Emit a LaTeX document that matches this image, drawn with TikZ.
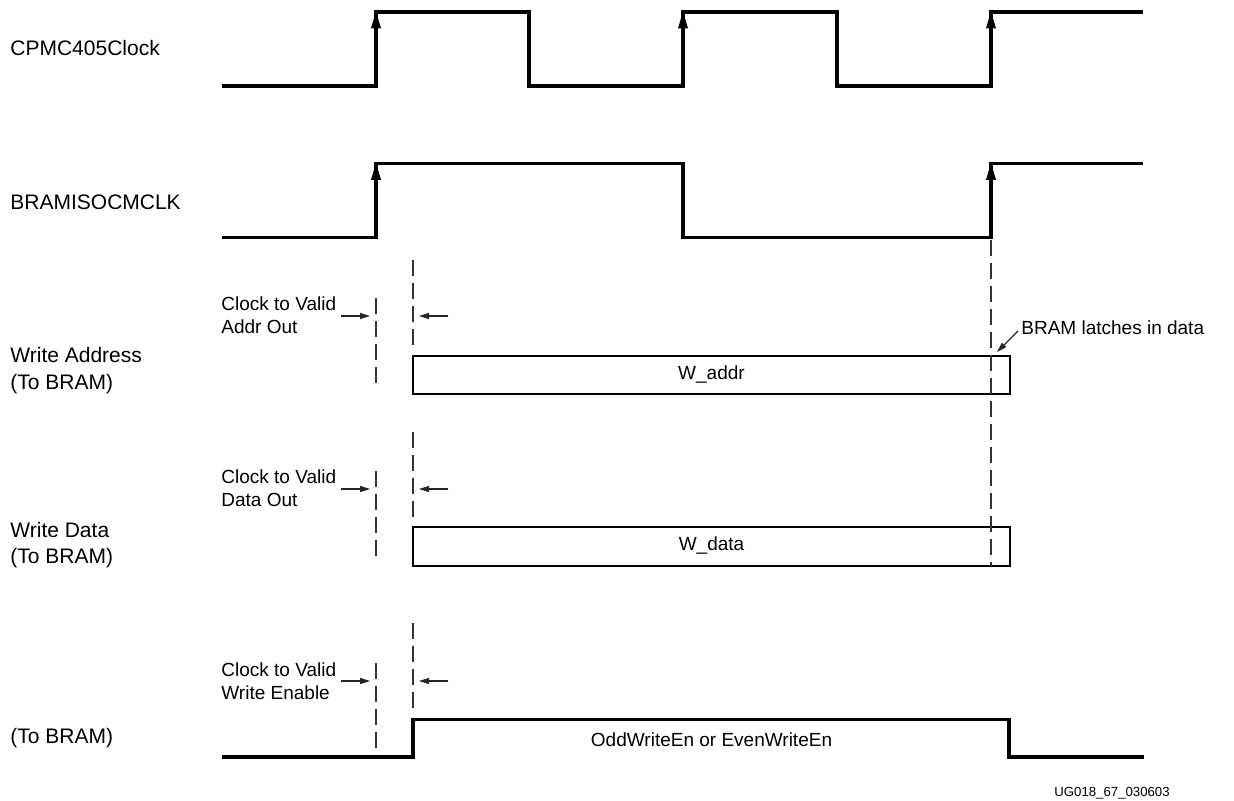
\documentclass[tikz,border=0pt]{standalone}
\usepackage{fontspec}
\setmainfont{Liberation Sans}
\usetikzlibrary{arrows.meta}

\begin{document}
\begin{tikzpicture}[x=0.5pt, y=-0.5pt,
    wave/.style={line width=1.7pt},
    rise/.style={line width=1.7pt, -{Triangle[length=9pt, width=4.5pt]}},
    bus/.style={draw, line width=1pt},
    guide/.style={line width=0.65pt, black!80, dash pattern=on 8pt off 3.5pt},
    tick/.style={line width=0.6pt, black!85, -{Triangle[length=5pt, width=3pt]}},
    lbl/.style={anchor=base west, inner sep=0pt, font=\fontsize{10.5}{13}\selectfont},
    note/.style={anchor=base west, inner sep=0pt, font=\fontsize{9.5}{11.5}\selectfont},
    sig/.style={inner sep=0pt, font=\fontsize{9.5}{11.5}\selectfont}]

    \useasboundingbox (0,0) rectangle (1234,801);

    % signal names
    \node[lbl] (cpmc) at (10,56) {CPMC405Clock};
    \node[lbl] (bram) at (10,210) {BRAMISOCMCLK};
    \node[lbl] (wa1) at (10,363) {Write Address};
    \node[lbl] (wa2) at (10,389) {(To BRAM)};
    \node[lbl] (wd1) at (10,537) {Write Data};
    \node[lbl] (wd2) at (10,563) {(To BRAM)};
    \node[lbl] (we1) at (10,743) {(To BRAM)};

    % clocks
    \draw[wave] (222,86) -- (376,86) -- (376,12) -- (529,12) -- (529,86) -- (683,86)
        -- (683,12) -- (837,12) -- (837,86) -- (991,86) -- (991,12) -- (1143,12);
    \draw[rise] (376,40) -- (376,10.5);
    \draw[rise] (683,40) -- (683,10.5);
    \draw[rise] (991,40) -- (991,10.5);

    \draw[wave] (222,237.5) -- (376,237.5) -- (376,163.5) -- (683,163.5) -- (683,237.5)
        -- (991,237.5) -- (991,163.5) -- (1143,163.5);
    \draw[rise] (376,190) -- (376,162);
    \draw[rise] (991,190) -- (991,162);

    % buses
    \draw[bus] (413,356) rectangle (1010,394);
    \node[sig] (waddr) at (711.5,375) {W\_addr};
    \draw[bus] (413,527) rectangle (1010,565.5);
    \node[sig] (wdata) at (711.5,546) {W\_data};

    % write enable
    \draw[wave] (222,757) -- (413,757) -- (413,719.5) -- (1009,719.5) -- (1009,757) -- (1144,757);
    \node[sig] (wen) at (711.5,740) {OddWriteEn or EvenWriteEn};

    % guides
    \draw[guide] (991,240) -- (991,566);
    \draw[guide] (413,260) -- (413,347);
    \draw[guide] (376,298) -- (376,385);
    \draw[guide] (413,432) -- (413,519);
    \draw[guide] (376,471) -- (376,558);
    \draw[guide] (413,623) -- (413,711);
    \draw[guide] (376,663) -- (376,750);

    % delay notes
    \node[note] (ca1) at (221,310.5) {Clock to Valid};
    \node[note] (ca2) at (221,333.5) {Addr Out};
    \coordinate (ca3) at (341,316);
    \coordinate (ca4) at (370,316);
    \coordinate (ca5) at (448,316);
    \coordinate (ca6) at (419,316);
    \draw[tick] (ca3) -- (ca4);
    \draw[tick] (ca5) -- (ca6);

    \node[note] (cd1) at (221,483.5) {Clock to Valid};
    \node[note] (cd2) at (221,506.5) {Data Out};
    \coordinate (cd3) at (341,489);
    \coordinate (cd4) at (370,489);
    \coordinate (cd5) at (448,489);
    \coordinate (cd6) at (419,489);
    \draw[tick] (cd3) -- (cd4);
    \draw[tick] (cd5) -- (cd6);

    \node[note] (cw1) at (221,676) {Clock to Valid};
    \node[note] (cw2) at (221,699) {Write Enable};
    \coordinate (cw3) at (341,681);
    \coordinate (cw4) at (370,681);
    \coordinate (cw5) at (448,681);
    \coordinate (cw6) at (419,681);
    \draw[tick] (cw3) -- (cw4);
    \draw[tick] (cw5) -- (cw6);

    % latch note
    \node[note] (latch) at (1021,335) {BRAM latches in data};
    \coordinate (lt1) at (1018,331);
    \coordinate (lt2) at (997,352);
    \draw[tick] (lt1) -- (lt2);

    \node[anchor=base west, inner sep=0pt, font=\fontsize{6.6}{8}\selectfont] (fig) at (1054,796) {UG018\_67\_030603};
\end{tikzpicture}
\end{document}
